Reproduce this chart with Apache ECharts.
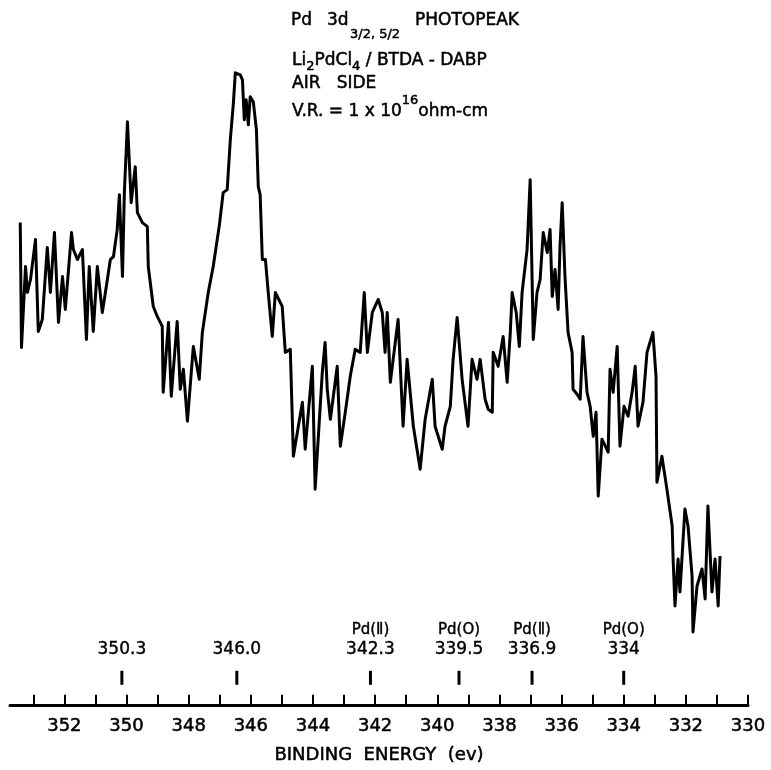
<!DOCTYPE html>
<html>
<head>
<meta charset="utf-8">
<script src="https://cdn.jsdelivr.net/npm/echarts@6/dist/echarts.min.js"></script>
<style>html,body{margin:0;padding:0;background:#fff}#chart{width:771px;height:770px}</style>
</head>
<body>
<div id="chart"></div>
<script>
// Binding energy (eV) of each traced point of the Pd 3d spectrum
const energy = [353.42,353.38,353.35,353.25,353.19,353.09,352.93,352.84,352.71,352.55,352.45,352.32,352.19,352.06,351.97,351.77,351.71,351.58,351.42,351.29,351.20,351.07,350.94,350.78,350.68,350.52,350.42,350.30,350.23,350.13,350.07,349.97,349.85,349.72,349.65,349.49,349.33,349.30,349.14,349.01,348.85,348.82,348.65,348.56,348.37,348.27,348.17,348.04,347.85,347.66,347.56,347.37,347.21,347.01,346.89,346.76,346.66,346.56,346.50,346.34,346.27,346.21,346.15,346.08,346.02,345.92,345.82,345.76,345.70,345.63,345.53,345.44,345.31,345.21,344.99,344.89,344.73,344.63,344.47,344.34,344.25,344.02,343.93,343.70,343.61,343.54,343.44,343.22,343.12,342.96,342.80,342.64,342.48,342.35,342.25,342.09,341.90,341.77,341.68,341.61,341.51,341.26,341.10,340.97,340.77,340.55,340.39,340.16,340.07,339.84,339.75,339.58,339.49,339.36,339.20,339.01,338.88,338.72,338.62,338.46,338.36,338.23,338.20,338.04,337.88,337.75,337.65,337.59,337.46,337.36,337.27,337.11,337.01,336.91,336.79,336.69,336.59,336.46,336.37,336.30,336.21,336.11,336.05,335.98,335.89,335.79,335.66,335.63,335.50,335.40,335.31,335.18,335.08,334.98,334.89,334.82,334.70,334.50,334.44,334.34,334.21,334.12,333.99,333.86,333.73,333.63,333.54,333.38,333.25,333.06,332.96,332.93,332.77,332.61,332.44,332.41,332.35,332.25,332.19,332.03,331.93,331.80,331.77,331.64,331.48,331.38,331.29,331.16,331.06,330.96,330.90];
// Photoelectron intensity (arbitrary units)
const intensity = [477,352,350,433,407,420,460,368,380,452,407,467,377,423,390,467,450,440,450,360,433,368,433,387,407,440,443,470,505,423,507,578,497,533,487,477,473,433,393,383,373,307,377,303,378,310,330,278,353,320,367,407,433,475,507,510,560,597,627,625,620,580,600,575,603,598,570,513,505,440,440,407,363,407,393,347,350,243,273,297,250,333,210,327,357,310,280,333,253,287,323,350,347,407,347,387,400,387,347,387,317,380,273,340,273,230,280,320,273,250,273,293,340,382,320,273,340,320,340,300,290,287,347,333,363,317,367,407,387,353,407,450,520,360,407,420,467,447,470,403,430,390,453,497,423,367,347,310,305,300,363,307,293,263,287,203,260,247,330,307,353,253,293,283,307,333,273,297,347,367,323,217,243,210,173,140,93,140,107,190,173,123,67,113,130,100,193,107,140,93,143];
// Reference peak positions marked above the axis
const markerEnergy = [350.15, 346.45, 342.15, 339.3, 336.95, 334.0];
const markerValue = ['350.3', '346.0', '342.3', '339.5', '336.9', '334'];
const markerState = ['', '', 'Pd(Ⅱ)', 'Pd(O)', 'Pd(Ⅱ)', 'Pd(O)'];
// Axis ticks and labels
const tickValues = [330,331,332,333,334,335,336,337,338,339,340,341,342,343,344,345,346,347,348,349,350,351,352,353];
const labelValues = [330,332,334,336,338,340,342,344,346,348,350,352];

const FONT = 'DejaVu Sans';
const INK = {fill: '#000', stroke: '#000', lineWidth: 0.5};
const chart = echarts.init(document.getElementById('chart'), null, {renderer: 'canvas'});
const spectrum = energy.map((e, i) => [e, intensity[i]]);
const markers = markerEnergy.map((e, i) => ({value: [e, 21], txt: markerValue[i], st: markerState[i]}));

function txt(x, y, text, size, extra) {
  return {type: 'text', x: x, y: y, style: Object.assign({text: text, fontSize: size, fontFamily: FONT, verticalAlign: 'middle'}, INK, extra || {})};
}

chart.setOption({
  backgroundColor: '#fff',
  animation: false,
  grid: {left: 10, right: 23, top: 0, bottom: 64},
  xAxis: {
    type: 'value', inverse: true, min: 330, max: 353.75,
    axisLine: {show: true, onZero: false, lineStyle: {color: '#000', width: 3}},
    axisTick: {show: true, inside: true, length: 10, customValues: tickValues, lineStyle: {color: '#000', width: 2}},
    axisLabel: {show: true, customValues: labelValues, margin: 13, color: '#000', fontSize: 18, fontFamily: FONT,
      textBorderColor: '#000', textBorderWidth: 0.5, formatter: v => String(v)},
    splitLine: {show: false},
    name: 'BINDING  ENERGY  (ev)', nameLocation: 'middle', nameGap: 42,
    nameTextStyle: {color: '#000', fontSize: 18, fontFamily: FONT, textBorderColor: '#000', textBorderWidth: 0.5}
  },
  yAxis: {type: 'value', show: false, min: -6, max: 700, splitLine: {show: false}},
  series: [
    {
      type: 'line', data: spectrum, showSymbol: false, symbol: 'none',
      lineStyle: {color: '#000', width: 3, join: 'round'}, z: 3
    },
    {
      type: 'scatter', data: markers, symbol: 'rect', symbolSize: [3, 14],
      itemStyle: {color: '#000', opacity: 1},
      label: {
        show: true, position: 'top', distance: 11, color: '#000', opacity: 1, fontFamily: FONT,
        formatter: p => p.data.st ? '{s|' + p.data.st + '}\n{n|' + p.data.txt + '}' : '{n|' + p.data.txt + '}',
        rich: {
          n: {fontSize: 17, lineHeight: 20, color: '#000', fontFamily: FONT, textBorderColor: '#000', textBorderWidth: 0.4},
          s: {fontSize: 15, lineHeight: 20, color: '#000', fontFamily: FONT, textBorderColor: '#000', textBorderWidth: 0.4}
        }
      }
    }
  ],
  graphic: [
    txt(291, 21, 'Pd', 17),
    txt(327, 21, '3d', 17),
    txt(350, 35, '3/2, 5/2', 13),
    txt(415, 21, 'PHOTOPEAK', 17),
    txt(292, 49, '{m|Li}{b|2}{m|PdCl}{b|4}{m| / BTDA - DABP}', 17, {verticalAlign: 'top',
      rich: {m: {fontSize: 17, fontFamily: FONT, lineHeight: 24, verticalAlign: 'middle'}, b: {fontSize: 13, fontFamily: FONT, lineHeight: 14, verticalAlign: 'bottom'}}}),
    txt(292, 84, 'AIR   SIDE', 17),
    txt(292, 94, '{m|V.R. = 1 x 10}{p|16}{m|ohm-cm}', 17, {verticalAlign: 'top',
      rich: {m: {fontSize: 17, fontFamily: FONT, lineHeight: 26, verticalAlign: 'bottom'}, p: {fontSize: 13, fontFamily: FONT, lineHeight: 14, verticalAlign: 'top'}}})
  ]
});
</script>
</body>
</html>
